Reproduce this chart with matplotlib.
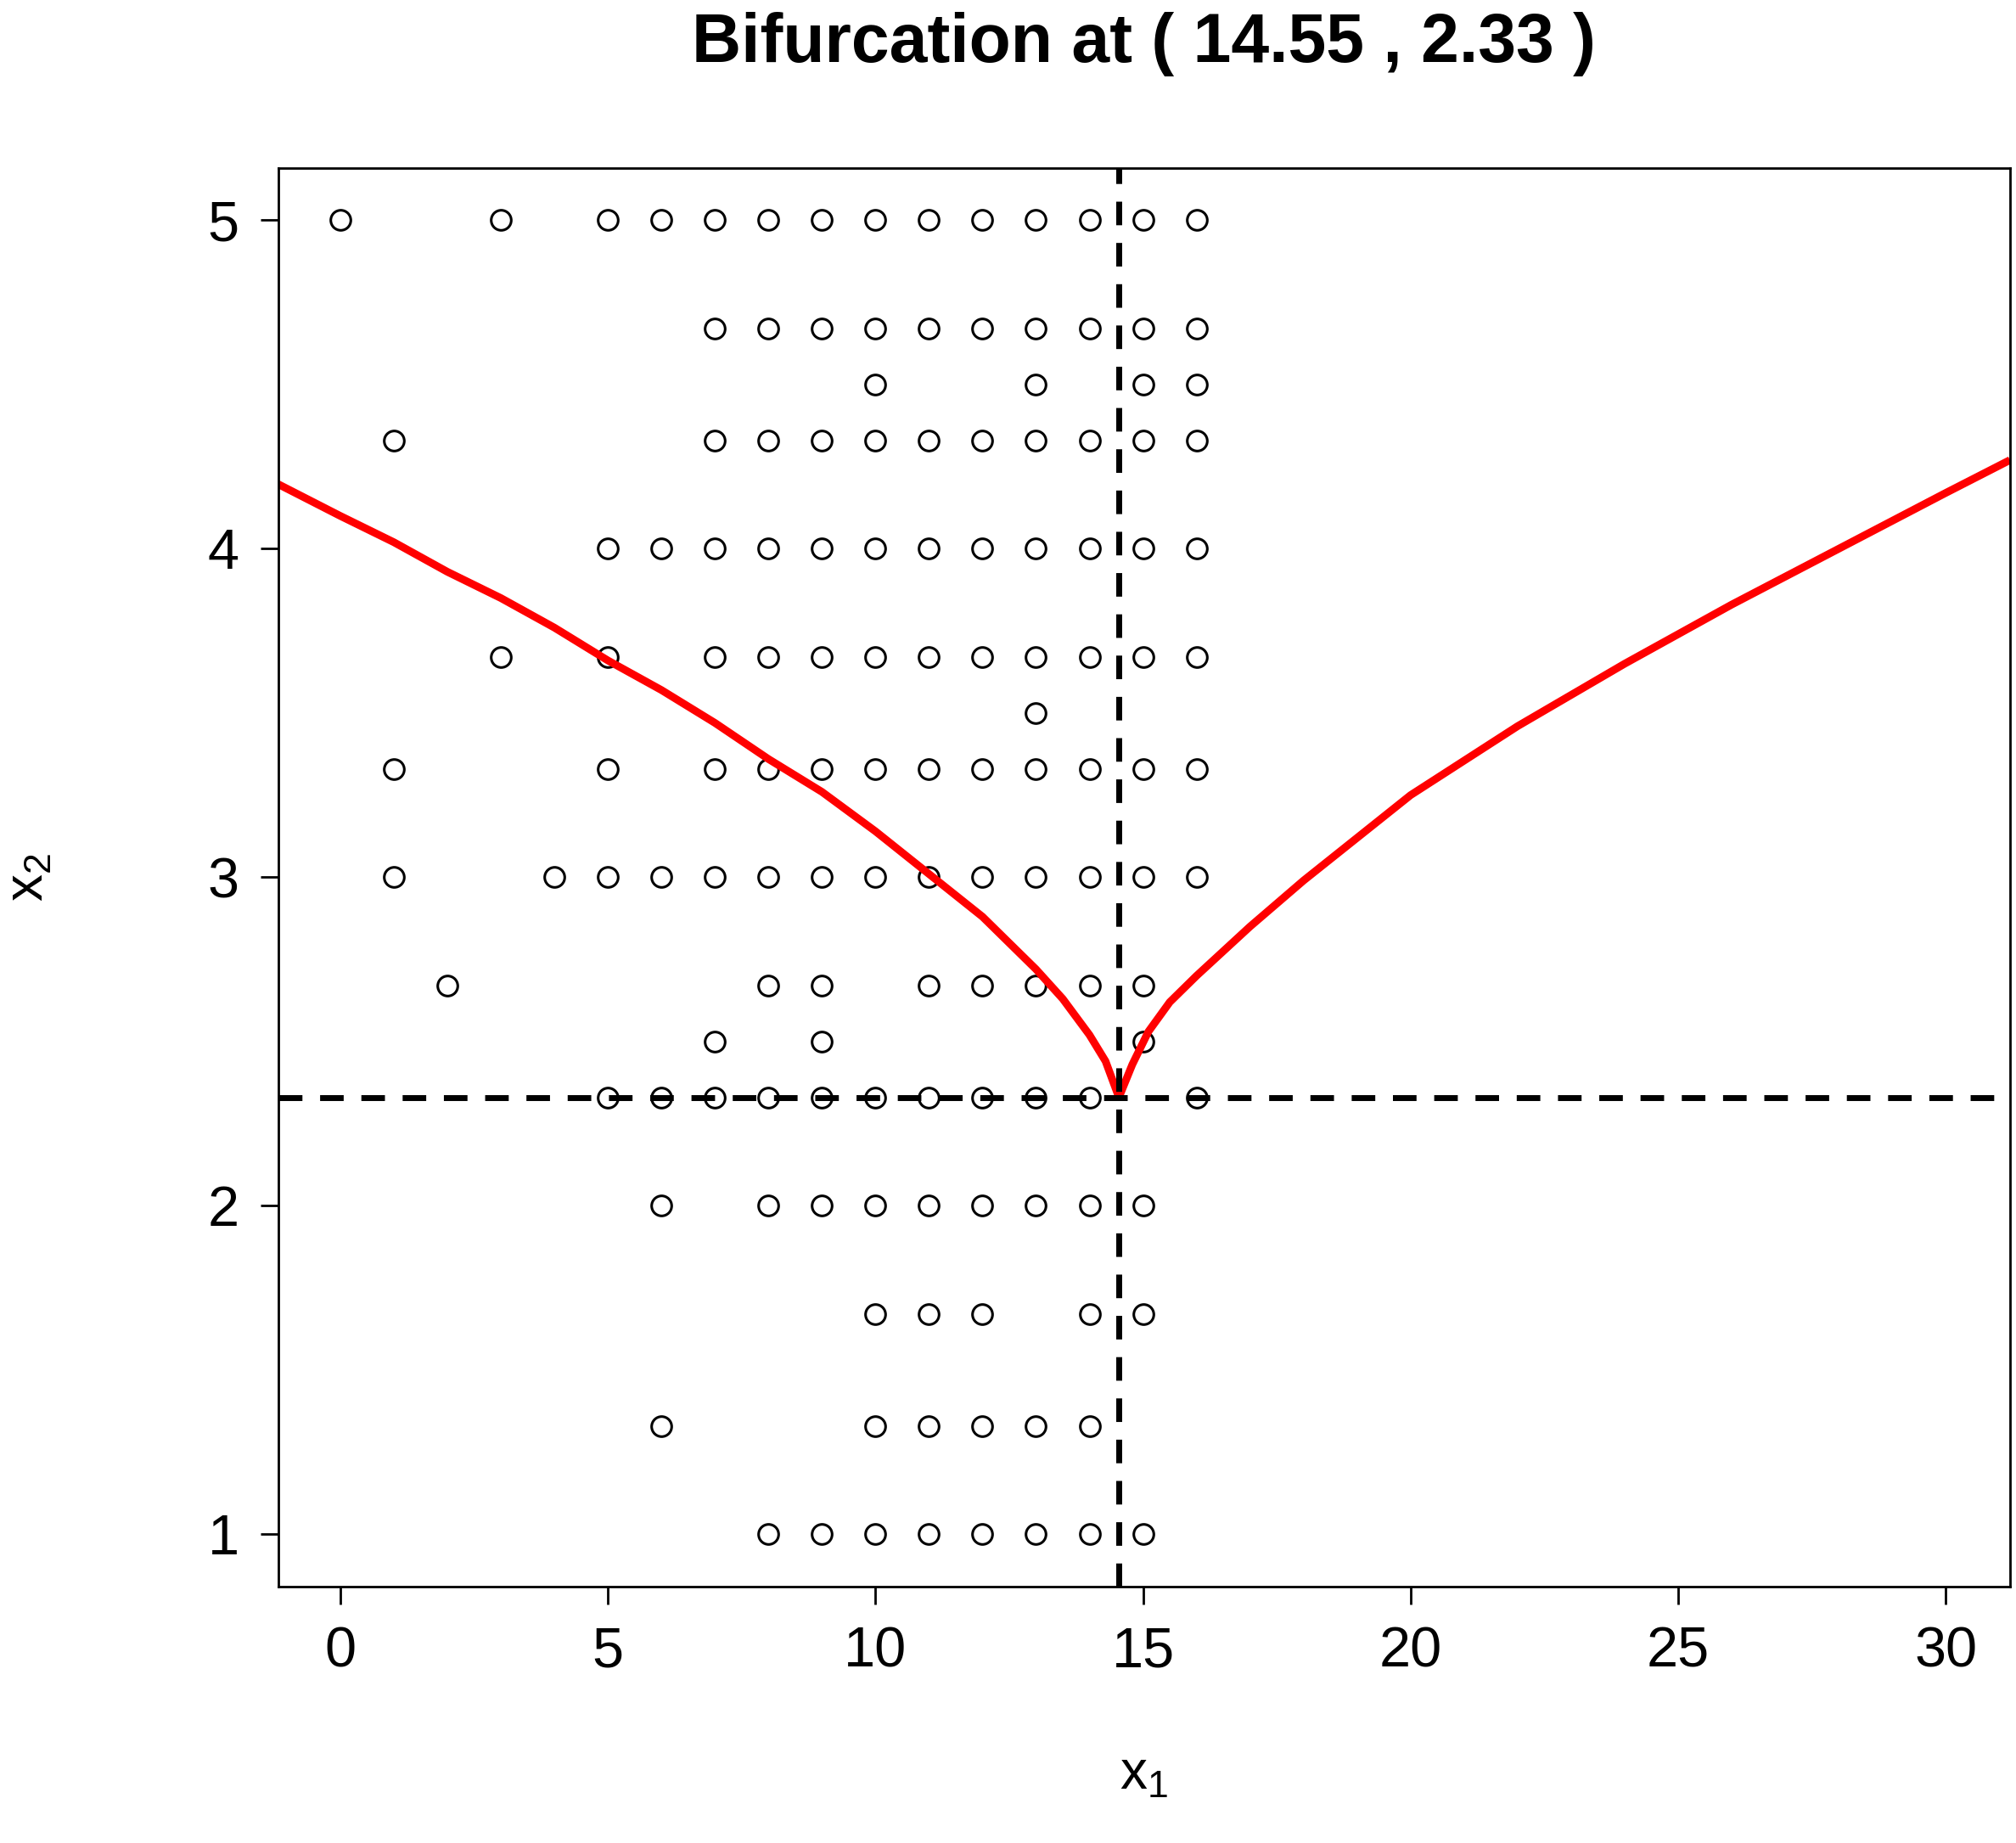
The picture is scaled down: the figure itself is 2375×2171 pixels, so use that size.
import matplotlib
matplotlib.use("Agg")
from matplotlib import pyplot as plt
import numpy as np

plt.rcParams['font.family'] = ['Liberation Sans', 'DejaVu Sans']

# grid points, one row per x2 level
rows = {
    5.0:  [0, 3, 5, 6, 7, 8, 9, 10, 11, 12, 13, 14, 15, 16],
    4.67: [7, 8, 9, 10, 11, 12, 13, 14, 15, 16],
    4.5:  [10, 13, 15, 16],
    4.33: [1, 7, 8, 9, 10, 11, 12, 13, 14, 15, 16],
    4.0:  [5, 6, 7, 8, 9, 10, 11, 12, 13, 14, 15, 16],
    3.67: [3, 5, 7, 8, 9, 10, 11, 12, 13, 14, 15, 16],
    3.5:  [13],
    3.33: [1, 5, 7, 8, 9, 10, 11, 12, 13, 14, 15, 16],
    3.0:  [1, 4, 5, 6, 7, 8, 9, 10, 11, 12, 13, 14, 15, 16],
    2.67: [2, 8, 9, 11, 12, 13, 14, 15],
    2.5:  [7, 9, 15],
    2.33: [5, 6, 7, 8, 9, 10, 11, 12, 13, 14, 16],
    2.0:  [6, 8, 9, 10, 11, 12, 13, 14, 15],
    1.67: [10, 11, 12, 14, 15],
    1.33: [6, 10, 11, 12, 13, 14],
    1.0:  [8, 9, 10, 11, 12, 13, 14, 15],
}

# bifurcation curve
left_x = [-1.2, 0, 1, 2, 3, 4, 5, 6, 7, 8, 9, 10, 11, 12, 12.5, 13, 13.5, 14, 14.3, 14.55]
left_y = [4.2, 4.1, 4.02, 3.93, 3.85, 3.76, 3.66, 3.57, 3.47, 3.36, 3.26, 3.14, 3.01, 2.88, 2.8, 2.72, 2.63, 2.52, 2.44, 2.33]
right_x = [14.55, 14.8, 15.1, 15.5, 16, 17, 18, 19, 20, 22, 24, 26, 28, 30, 31.2]
right_y = [2.33, 2.43, 2.53, 2.62, 2.7, 2.85, 2.99, 3.12, 3.25, 3.46, 3.65, 3.83, 4.0, 4.17, 4.27]

bif_x, bif_y = 14.55, 2.33

fig = plt.figure(figsize=(23.75, 21.71), dpi=100)
ax = fig.add_axes([0.138, 0.139, 0.859, 0.770])

xs = [x for y, xl in rows.items() for x in xl]
ys = [y for y, xl in rows.items() for x in xl]
ax.plot(xs, ys, 'o', markersize=17, markerfacecolor='none', markeredgecolor='k', markeredgewidth=2.2)

ax.plot(left_x, left_y, color='red', lw=6.5, solid_capstyle='butt')
ax.plot(right_x, right_y, color='red', lw=6.5, solid_capstyle='butt')

ax.axvline(bif_x, color='k', lw=5, ls=(0, (4, 3)))
ax.axhline(bif_y, color='k', lw=5, ls=(0, (4, 3)))

ax.set_xlim(-1.16, 31.2)
ax.set_ylim(0.84, 5.16)
ax.set_xticks([0, 5, 10, 15, 20, 25, 30])
ax.set_yticks([1, 2, 3, 4, 5])
ax.tick_params(labelsize=48, length=15, width=2, pad=18)
for s in ax.spines.values():
    s.set_linewidth(2)

ax.set_xlabel('$\\mathregular{x_1}$', fontsize=46, labelpad=60)
ax.set_ylabel('$\\mathregular{x_2}$', fontsize=46, labelpad=130, rotation=90)
ax.set_title('Bifurcation at ( 14.55 , 2.33 )', fontsize=58, fontweight='bold', pad=90)

fig.savefig('out.png', dpi=100)
